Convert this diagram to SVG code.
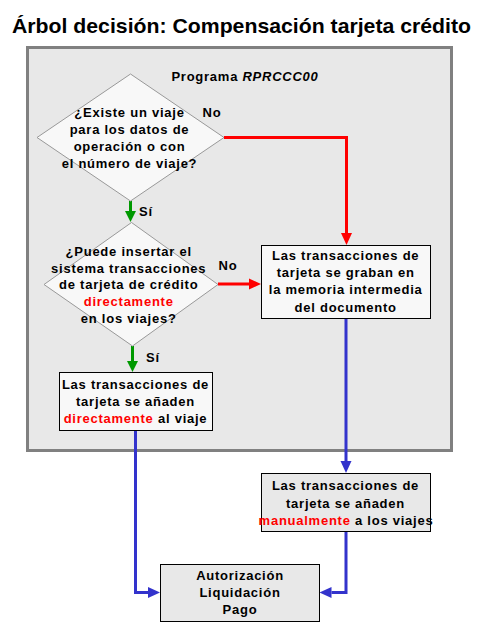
<svg xmlns="http://www.w3.org/2000/svg" width="479" height="638" viewBox="0 0 479 638">
<style>
.t{font-family:"Liberation Sans",Arial,sans-serif;font-weight:bold;font-size:13px;letter-spacing:0.75px;fill:#000;text-anchor:middle}
.title{font-family:"Liberation Sans",Arial,sans-serif;font-weight:bold;font-size:21px;fill:#000}
.red{fill:#ff0000}
.dia{fill:#f8f8f8;stroke:#999999;stroke-width:1}
.box{stroke:#000;stroke-width:1}
.in{fill:#f8f8f8}
.out{fill:#e8e8e8}
.c{fill:none;stroke-width:3}
.cr{stroke:#ff0000}
.cg{stroke:#009900}
.cb{stroke:#3333cc}
</style>
<defs>
<marker id="ar" markerUnits="userSpaceOnUse" markerWidth="13" markerHeight="12" refX="0" refY="6" orient="auto"><path d="M0,0.5 L12,6 L0,11.5 Z" fill="#ff0000"/></marker>
<marker id="ag" markerUnits="userSpaceOnUse" markerWidth="13" markerHeight="12" refX="0" refY="6" orient="auto"><path d="M0,0.5 L11,6 L0,11.5 Z" fill="#009900"/></marker>
<marker id="ab" markerUnits="userSpaceOnUse" markerWidth="13" markerHeight="12" refX="0" refY="6" orient="auto"><path d="M0,0.5 L12,6 L0,11.5 Z" fill="#3333cc"/></marker>
</defs>
<rect width="479" height="638" fill="#ffffff"/>
<text class="title" x="12" y="33" textLength="459" lengthAdjust="spacingAndGlyphs">Árbol decisión: Compensación tarjeta crédito</text>
<g id="programa">
<rect x="27.5" y="47.5" width="424" height="403" fill="#e8e8e8" stroke="#808080" stroke-width="3"/>
<text class="t" x="245" y="81">Programa <tspan font-style="italic">RPRCCC00</tspan></text>
</g>
<g id="connectors">
<path class="c cr" d="M224,137.5 H346.5 V233" marker-end="url(#ar)"/>
<path class="c cg" d="M130.5,201 V211" marker-end="url(#ag)"/>
<path class="c cr" d="M218,284 H249" marker-end="url(#ar)"/>
<path class="c cg" d="M132.5,346 V361" marker-end="url(#ag)"/>
<path class="c cb" d="M135.5,431 V592.5 H148" marker-end="url(#ab)"/>
<path class="c cb" d="M346,319 V461" marker-end="url(#ab)"/>
<path class="c cb" d="M346,531 V592.5 H331.5" marker-end="url(#ab)"/>
<text class="t" x="212" y="117">No</text>
<text class="t" x="146" y="216">Sí</text>
<text class="t" x="228" y="269.5">No</text>
<text class="t" x="153" y="362">Sí</text>
</g>
<g id="d1">
<path class="dia" d="M130.5,74 L224,137.5 L130.5,201 L37,137.5 Z"/>
<text class="t" x="129.5" y="117">¿Existe un viaje</text>
<text class="t" x="129.5" y="134">para los datos de</text>
<text class="t" x="129.5" y="151.3">operación o con</text>
<text class="t" x="129.5" y="168.3">el número de viaje?</text>
</g>
<g id="d2">
<path class="dia" d="M131.5,222.5 L218,284.5 L132.5,346 L44,284.5 Z"/>
<text class="t" x="128.7" y="256">¿Puede insertar el</text>
<text class="t" x="128.7" y="272.7">sistema transacciones</text>
<text class="t" x="128.7" y="289.4">de tarjeta de crédito</text>
<text class="t red" x="128.7" y="306.1">directamente</text>
<text class="t" x="128.7" y="322.8">en los viajes?</text>
</g>
<g id="buffer">
<rect class="box in" x="261.5" y="245.5" width="169" height="73"/>
<text class="t" x="345.7" y="260.3">Las transacciones de</text>
<text class="t" x="345.7" y="277.2">tarjeta se graban en</text>
<text class="t" x="345.7" y="294.3">la memoria intermedia</text>
<text class="t" x="345.7" y="311.5">del documento</text>
</g>
<g id="directo">
<rect class="box in" x="59.5" y="372.5" width="153" height="58"/>
<text class="t" x="135.5" y="389.2">Las transacciones de</text>
<text class="t" x="135.5" y="406">tarjeta se añaden</text>
<text class="t" x="135.5" y="423"><tspan class="red">directamente</tspan> al viaje</text>
</g>
<g id="manual">
<rect class="box out" x="261.5" y="473.5" width="169" height="58"/>
<text class="t" x="345.5" y="490.2">Las transacciones de</text>
<text class="t" x="345.5" y="507.5">tarjeta se añaden</text>
<text class="t" x="346" y="524.5"><tspan class="red">manualmente</tspan> a los viajes</text>
</g>
<g id="pago">
<rect class="box out" x="160.5" y="564.5" width="159" height="57"/>
<text class="t" x="240" y="580.2">Autorización</text>
<text class="t" x="240" y="597.3">Liquidación</text>
<text class="t" x="240" y="614.3">Pago</text>
</g>
</svg>
